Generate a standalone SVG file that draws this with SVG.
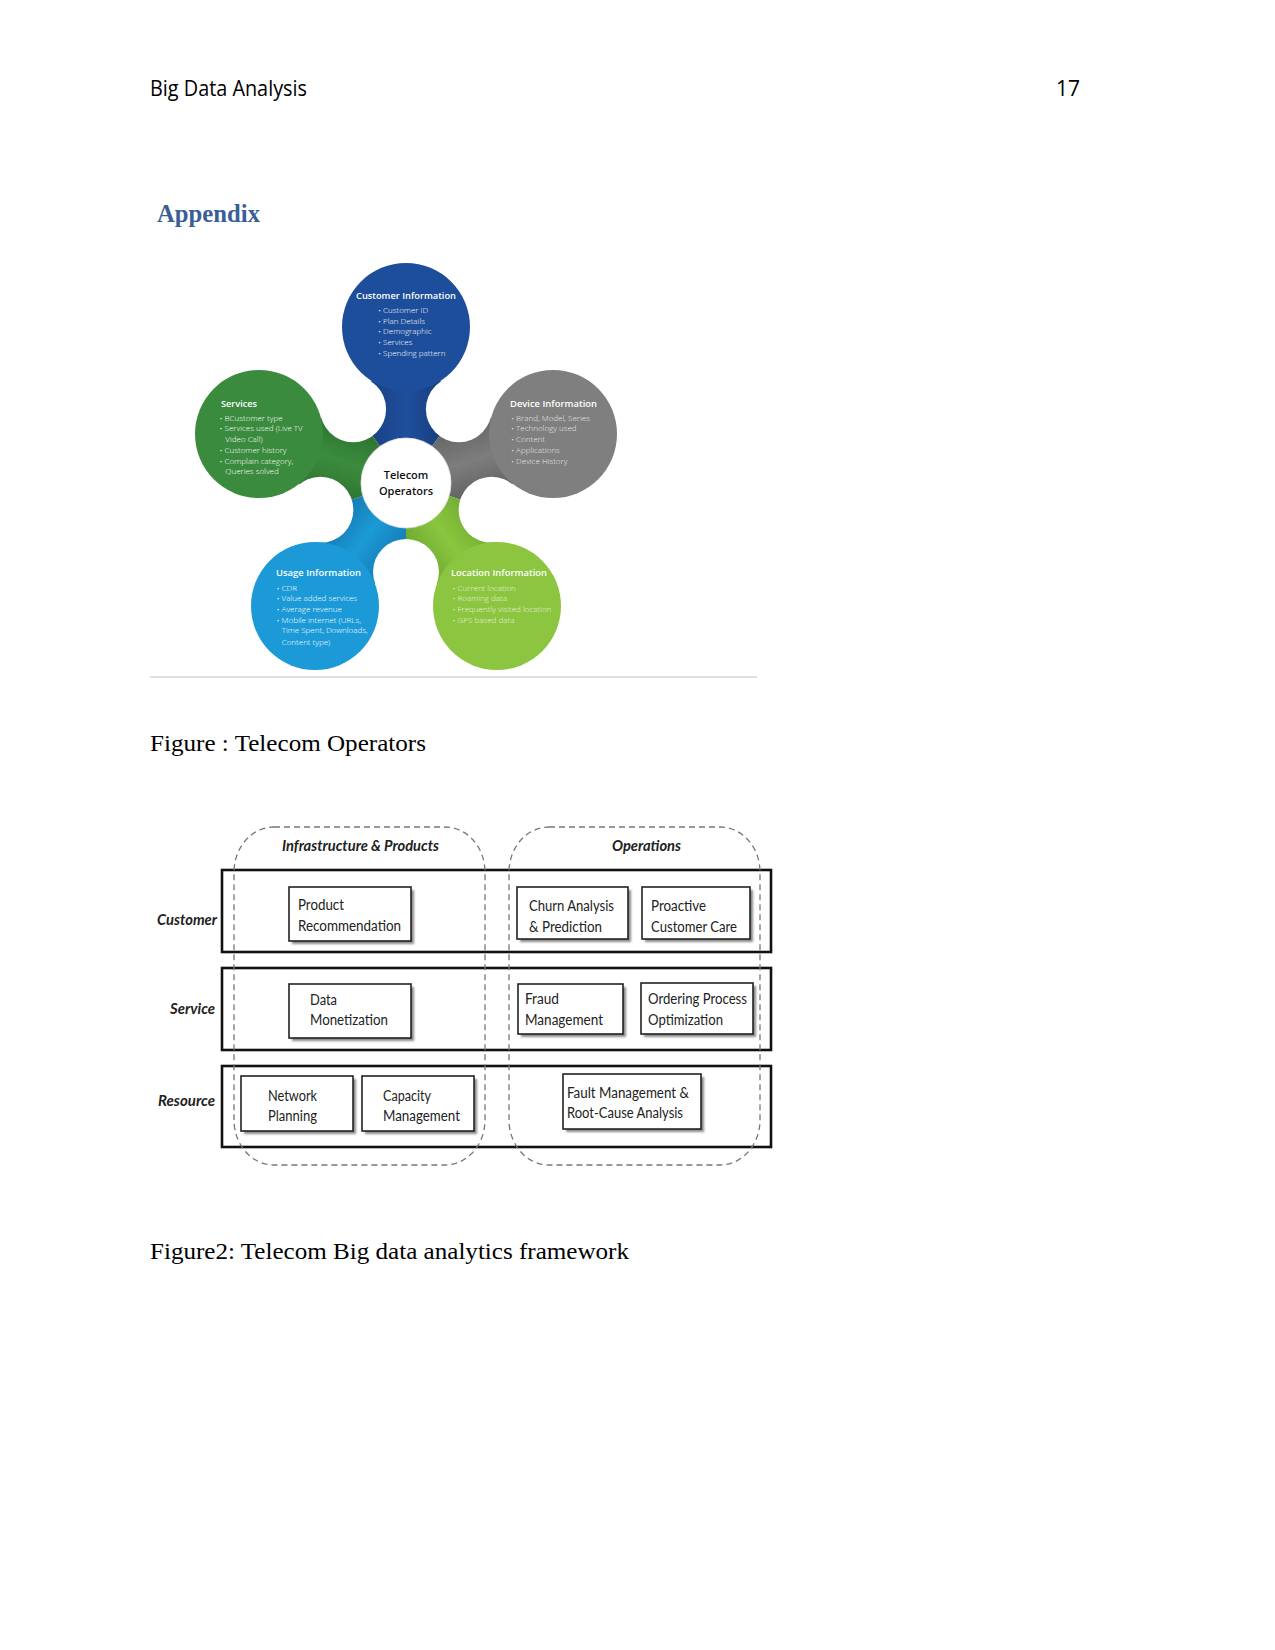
<svg xmlns="http://www.w3.org/2000/svg" width="1275" height="1650" viewBox="0 0 1275 1650">
<defs>
<linearGradient id="gBlue" x1="0" y1="0" x2="1" y2="0"><stop offset="0" stop-color="#163a78"/><stop offset="0.5" stop-color="#1f4f9c"/><stop offset="1" stop-color="#143670"/></linearGradient>
<linearGradient id="gGray" x1="0" y1="0" x2="1" y2="0"><stop offset="0" stop-color="#5a5a5a"/><stop offset="0.5" stop-color="#7d7d7d"/><stop offset="1" stop-color="#555"/></linearGradient>
<linearGradient id="gLime" x1="0" y1="0" x2="1" y2="0"><stop offset="0" stop-color="#62a02c"/><stop offset="0.5" stop-color="#8cc63f"/><stop offset="1" stop-color="#5e9a2a"/></linearGradient>
<linearGradient id="gCyan" x1="0" y1="0" x2="1" y2="0"><stop offset="0" stop-color="#1070a8"/><stop offset="0.5" stop-color="#1c9ad6"/><stop offset="1" stop-color="#0f6aa0"/></linearGradient>
<linearGradient id="gGreen" x1="0" y1="0" x2="1" y2="0"><stop offset="0" stop-color="#276a2b"/><stop offset="0.5" stop-color="#3b8c3e"/><stop offset="1" stop-color="#256528"/></linearGradient>
<path id="neck" d="M0,0 L-52.9,-72.8 L0,-154 L52.9,-72.8 Z"/>
<filter id="sh" x="-10%" y="-10%" width="130%" height="130%"><feGaussianBlur stdDeviation="1.2"/></filter>
</defs>
<style>
.hdr{font-family:"Open Sans","Liberation Sans",sans-serif;font-size:21px;fill:#000}
.cap{font-family:"Liberation Serif",serif;font-size:24px;fill:#000}
.app{font-family:"Liberation Serif",serif;font-size:25px;font-weight:bold;fill:#3a5f96}
.pt{font-family:"Open Sans",sans-serif;font-size:9.3px;font-weight:600;fill:#fff}
.pb{font-family:"Open Sans",sans-serif;font-size:8px;font-weight:300;fill:#fff}
.pf{fill-opacity:0.85}
.ct{font-family:"Open Sans",sans-serif;font-size:11px;font-weight:600;fill:#111;text-anchor:middle}
.row{fill:none;stroke:#111;stroke-width:2.6}
.dash{fill:none;stroke:#777;stroke-width:1.3;stroke-dasharray:6 4}
.box{fill:#fff;stroke:#222;stroke-width:1.6}
.bsh{fill:#8a8a8a;filter:url(#sh)}
.bt{font-family:"Lato","Open Sans",sans-serif;font-size:15.5px;fill:#222}
.lab{font-family:"Lato","Open Sans",sans-serif;font-size:15px;font-weight:bold;font-style:italic;fill:#222}
</style>
<rect width="1275" height="1650" fill="#fff"/>

<g id="header">
<text class="hdr" x="150" y="96" textLength="157" lengthAdjust="spacingAndGlyphs">Big Data Analysis</text>
<text class="hdr" x="1080" y="96" text-anchor="end">17</text>
<text class="app" x="157" y="222" textLength="103" lengthAdjust="spacingAndGlyphs">Appendix</text>
</g>

<g id="figure1">
<g id="necks">
<use href="#neck" fill="url(#gBlue)" transform="translate(406,482) rotate(0)"/>
<use href="#neck" fill="url(#gGray)" transform="translate(406,482) rotate(72)"/>
<use href="#neck" fill="url(#gLime)" transform="translate(406,482) rotate(144)"/>
<use href="#neck" fill="url(#gCyan)" transform="translate(406,482) rotate(216)"/>
<use href="#neck" fill="url(#gGreen)" transform="translate(406,482) rotate(288)"/>
<g fill="#fff">
<circle cx="458.9" cy="409.2" r="33"/>
<circle cx="491.6" cy="509.8" r="33"/>
<circle cx="406" cy="572" r="33"/>
<circle cx="320.4" cy="509.8" r="33"/>
<circle cx="353.1" cy="409.2" r="33"/>
</g>
</g>
<g id="customer-info">
<circle cx="406" cy="327" r="64" fill="#1d4e9b"/>
<text class="pt" x="406" y="299" text-anchor="middle" textLength="100" lengthAdjust="spacingAndGlyphs">Customer Information</text>
<text class="pb" x="378" y="313">• Customer ID</text>
<text class="pb" x="378" y="324">• Plan Details</text>
<text class="pb" x="378" y="334">• Demographic</text>
<text class="pb" x="378" y="345">• Services</text>
<text class="pb" x="378" y="356">• Spending pattern</text>
</g>
<g id="device-info">
<circle cx="553" cy="434" r="64" fill="#7f7f7f"/>
<text class="pt" x="510" y="407" textLength="87" lengthAdjust="spacingAndGlyphs">Device Information</text>
<g class="pf">
<text class="pb" x="511" y="421">• Brand, Model, Series</text>
<text class="pb" x="511" y="431">• Technology used</text>
<text class="pb" x="511" y="442">• Content</text>
<text class="pb" x="511" y="453">• Applications</text>
<text class="pb" x="511" y="463.5">• Device History</text>
</g>
</g>
<g id="location-info">
<circle cx="497" cy="606" r="64" fill="#8cc540"/>
<text class="pt" x="451" y="576" textLength="96" lengthAdjust="spacingAndGlyphs">Location Information</text>
<g class="pf">
<text class="pb" x="452.5" y="591">• Current location</text>
<text class="pb" x="452.5" y="601">• Roaming data</text>
<text class="pb" x="452.5" y="612">• Frequently visited location</text>
<text class="pb" x="452.5" y="623">• GPS based data</text>
</g>
</g>
<g id="usage-info">
<circle cx="315" cy="606" r="64" fill="#1b9ad7"/>
<text class="pt" x="276" y="576" textLength="85" lengthAdjust="spacingAndGlyphs">Usage Information</text>
<text class="pb" x="276.5" y="591">• CDR</text>
<text class="pb" x="276.5" y="601">• Value added services</text>
<text class="pb" x="276.5" y="612">• Average revenue</text>
<text class="pb" x="276.5" y="623">• Mobile internet (URLs,</text>
<text class="pb" x="281.7" y="633">Time Spent, Downloads,</text>
<text class="pb" x="281.7" y="644.5">Content type)</text>
</g>
<g id="services">
<circle cx="259" cy="434" r="64" fill="#3a8b3d"/>
<text class="pt" x="221" y="407" textLength="36" lengthAdjust="spacingAndGlyphs">Services</text>
<text class="pb" x="219.5" y="421">• BCustomer type</text>
<text class="pb" x="219.5" y="431">• Services used (Live TV</text>
<text class="pb" x="225.3" y="442">Video Call)</text>
<text class="pb" x="219.5" y="453">• Customer history</text>
<text class="pb" x="219.5" y="463.5">• Complain category,</text>
<text class="pb" x="225.3" y="474">Queries solved</text>
</g>
<g id="telecom-operators">
<circle cx="406" cy="483" r="45" fill="#fff" stroke="#e4e4e4" stroke-width="0.8"/>
<text class="ct" x="406" y="479">Telecom</text>
<text class="ct" x="406" y="494.5">Operators</text>
</g>
<line x1="150" y1="677" x2="757" y2="677" stroke="#d4d4d4" stroke-width="1.5"/>
</g>

<text class="cap" x="150" y="751" textLength="276" lengthAdjust="spacingAndGlyphs">Figure : Telecom Operators</text>

<g id="figure2">
<g id="rows">
<rect class="row" x="222" y="870" width="549" height="82"/>
<rect class="row" x="222" y="968" width="549" height="82"/>
<rect class="row" x="222" y="1066" width="549" height="81"/>
</g>
<g id="groups">
<rect class="dash" x="234" y="827" width="251" height="338" rx="40" ry="45"/>
<rect class="dash" x="509" y="827" width="251" height="338" rx="40" ry="45"/>
</g>
<g id="labels">
<text class="lab" x="282" y="851" textLength="157" lengthAdjust="spacingAndGlyphs">Infrastructure &amp; Products</text>
<text class="lab" x="612" y="851" textLength="69" lengthAdjust="spacingAndGlyphs">Operations</text>
<text class="lab" x="157" y="925" textLength="60" lengthAdjust="spacingAndGlyphs">Customer</text>
<text class="lab" x="170" y="1014" textLength="45" lengthAdjust="spacingAndGlyphs">Service</text>
<text class="lab" x="158" y="1106" textLength="57" lengthAdjust="spacingAndGlyphs">Resource</text>
</g>
<g id="product-recommendation">
<rect class="bsh" x="292" y="890" width="122" height="54"/>
<rect class="box" x="289" y="887" width="122" height="54"/>
<text class="bt" x="298" y="910" textLength="46" lengthAdjust="spacingAndGlyphs">Product</text>
<text class="bt" x="298" y="931" textLength="103" lengthAdjust="spacingAndGlyphs">Recommendation</text>
</g>
<g id="churn-analysis">
<rect class="bsh" x="520" y="890" width="111" height="52"/>
<rect class="box" x="517" y="887" width="111" height="52"/>
<text class="bt" x="529" y="911" textLength="85" lengthAdjust="spacingAndGlyphs">Churn Analysis</text>
<text class="bt" x="529" y="932" textLength="73" lengthAdjust="spacingAndGlyphs">&amp; Prediction</text>
</g>
<g id="proactive-care">
<rect class="bsh" x="645" y="890" width="108" height="52"/>
<rect class="box" x="642" y="887" width="108" height="52"/>
<text class="bt" x="651" y="911" textLength="55" lengthAdjust="spacingAndGlyphs">Proactive</text>
<text class="bt" x="651" y="932" textLength="86" lengthAdjust="spacingAndGlyphs">Customer Care</text>
</g>
<g id="data-monetization">
<rect class="bsh" x="292" y="987" width="122" height="54"/>
<rect class="box" x="289" y="984" width="122" height="54"/>
<text class="bt" x="310" y="1005" textLength="27" lengthAdjust="spacingAndGlyphs">Data</text>
<text class="bt" x="310" y="1025" textLength="78" lengthAdjust="spacingAndGlyphs">Monetization</text>
</g>
<g id="fraud-management">
<rect class="bsh" x="521" y="987" width="105" height="50"/>
<rect class="box" x="518" y="984" width="105" height="50"/>
<text class="bt" x="525" y="1004" textLength="34" lengthAdjust="spacingAndGlyphs">Fraud</text>
<text class="bt" x="525" y="1025" textLength="78" lengthAdjust="spacingAndGlyphs">Management</text>
</g>
<g id="ordering-process">
<rect class="bsh" x="644" y="986" width="112" height="51"/>
<rect class="box" x="641" y="983" width="112" height="51"/>
<text class="bt" x="648" y="1004" textLength="99" lengthAdjust="spacingAndGlyphs">Ordering Process</text>
<text class="bt" x="648" y="1025" textLength="75" lengthAdjust="spacingAndGlyphs">Optimization</text>
</g>
<g id="network-planning">
<rect class="bsh" x="244" y="1079" width="112" height="55"/>
<rect class="box" x="241" y="1076" width="112" height="55"/>
<text class="bt" x="268" y="1101" textLength="49" lengthAdjust="spacingAndGlyphs">Network</text>
<text class="bt" x="268" y="1121" textLength="49" lengthAdjust="spacingAndGlyphs">Planning</text>
</g>
<g id="capacity-management">
<rect class="bsh" x="365" y="1079" width="112" height="55"/>
<rect class="box" x="362" y="1076" width="112" height="55"/>
<text class="bt" x="383" y="1101" textLength="48" lengthAdjust="spacingAndGlyphs">Capacity</text>
<text class="bt" x="383" y="1121" textLength="77" lengthAdjust="spacingAndGlyphs">Management</text>
</g>
<g id="fault-management">
<rect class="bsh" x="566" y="1077" width="138" height="55"/>
<rect class="box" x="563" y="1074" width="138" height="55"/>
<text class="bt" x="567" y="1098" textLength="122" lengthAdjust="spacingAndGlyphs">Fault Management &amp;</text>
<text class="bt" x="567" y="1118" textLength="116" lengthAdjust="spacingAndGlyphs">Root-Cause Analysis</text>
</g>
</g>

<text class="cap" x="150" y="1259" textLength="479" lengthAdjust="spacingAndGlyphs">Figure2: Telecom Big data analytics framework</text>
</svg>
